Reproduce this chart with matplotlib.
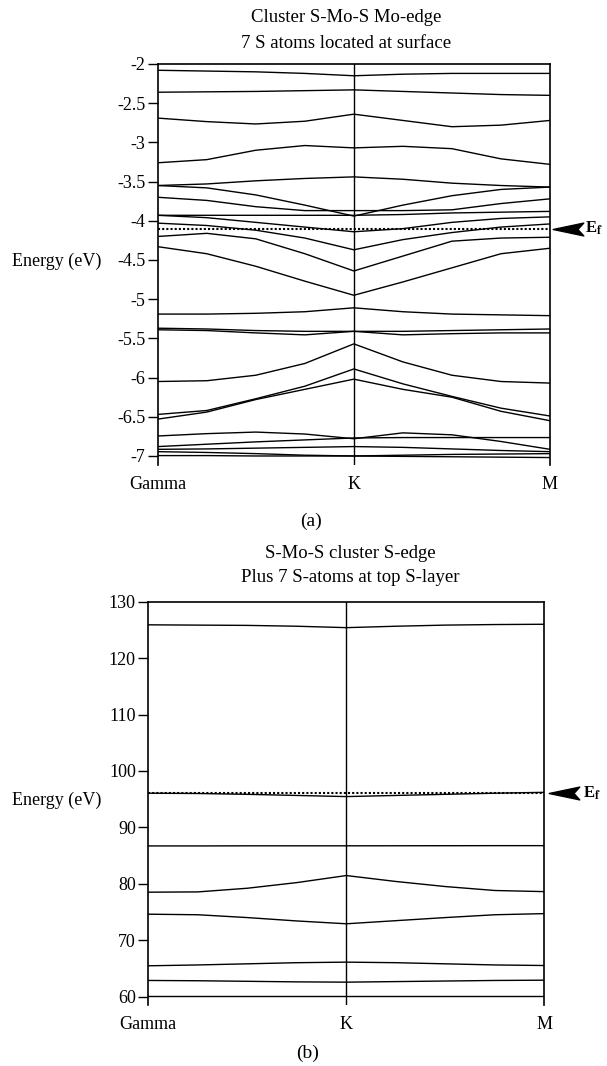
import matplotlib
matplotlib.use("Agg")
import matplotlib.pyplot as plt
from matplotlib.path import Path
from matplotlib import transforms

# ----------------------------
# DATA
# ----------------------------
k_path = [0, 0.25, 0.5, 0.75, 1.0, 1.25, 1.5, 1.75, 2.0]
k_ticks = [0, 1, 2]
k_labels = ["Gamma", "K", "M"]

# (a) Mo-edge, 7 S atoms at surface, energies in eV
bands_mo_edge = [
    [-2.08, -2.09, -2.10, -2.12, -2.15, -2.13, -2.12, -2.12, -2.12],
    [-2.36, -2.355, -2.35, -2.34, -2.33, -2.35, -2.37, -2.39, -2.40],
    [-2.69, -2.735, -2.765, -2.73, -2.64, -2.72, -2.80, -2.78, -2.72],
    [-3.26, -3.22, -3.10, -3.04, -3.07, -3.05, -3.08, -3.21, -3.28],
    [-3.55, -3.53, -3.49, -3.46, -3.44, -3.47, -3.52, -3.55, -3.57],
    [-3.55, -3.58, -3.67, -3.80, -3.94, -3.80, -3.68, -3.60, -3.57],
    [-3.70, -3.74, -3.82, -3.87, -3.87, -3.87, -3.86, -3.78, -3.72],
    [-3.93, -3.93, -3.93, -3.93, -3.93, -3.92, -3.90, -3.89, -3.88],
    [-3.93, -3.96, -4.02, -4.08, -4.14, -4.10, -4.02, -3.97, -3.95],
    [-4.03, -4.06, -4.12, -4.22, -4.37, -4.24, -4.15, -4.08, -4.04],
    [-4.20, -4.16, -4.23, -4.42, -4.64, -4.45, -4.26, -4.22, -4.21],
    [-4.33, -4.42, -4.58, -4.77, -4.95, -4.78, -4.60, -4.42, -4.35],
    [-5.19, -5.19, -5.18, -5.16, -5.11, -5.16, -5.19, -5.20, -5.21],
    [-5.37, -5.38, -5.40, -5.41, -5.41, -5.41, -5.40, -5.39, -5.38],
    [-5.39, -5.40, -5.43, -5.455, -5.41, -5.455, -5.44, -5.43, -5.43],
    [-6.05, -6.04, -5.97, -5.82, -5.57, -5.80, -5.97, -6.05, -6.07],
    [-6.47, -6.42, -6.27, -6.11, -5.89, -6.08, -6.24, -6.39, -6.49],
    [-6.53, -6.44, -6.28, -6.15, -6.02, -6.15, -6.25, -6.43, -6.55],
    [-6.745, -6.715, -6.695, -6.72, -6.78, -6.705, -6.73, -6.815, -6.915],
    [-6.88, -6.85, -6.82, -6.795, -6.77, -6.765, -6.765, -6.765, -6.765],
    [-6.915, -6.91, -6.90, -6.89, -6.88, -6.89, -6.91, -6.93, -6.945],
    [-6.945, -6.955, -6.97, -6.99, -7.00, -6.99, -6.98, -6.975, -6.97],
    [-6.995, -6.995, -7.00, -7.00, -7.00, -7.005, -7.01, -7.015, -7.02],
]
ef_mo_edge = -4.10
yticks_mo_edge = [-2, -2.5, -3, -3.5, -4, -4.5, -5, -5.5, -6, -6.5, -7]

# (b) S-edge, 7 S atoms at top S-layer, energies in eV
bands_s_edge = [
    [125.9, 125.85, 125.8, 125.65, 125.4, 125.65, 125.85, 125.95, 126.0],
    [96.05, 96.0, 95.85, 95.65, 95.45, 95.65, 95.85, 96.05, 96.2],
    [86.7, 86.7, 86.72, 86.72, 86.72, 86.73, 86.74, 86.75, 86.75],
    [78.5, 78.55, 79.2, 80.2, 81.45, 80.4, 79.5, 78.8, 78.6],
    [74.6, 74.5, 74.0, 73.4, 72.9, 73.45, 74.0, 74.5, 74.7],
    [65.45, 65.6, 65.8, 66.0, 66.1, 66.0, 65.8, 65.6, 65.5],
    [62.85, 62.8, 62.7, 62.6, 62.55, 62.65, 62.75, 62.85, 62.9],
    [60.15, 60.15, 60.15, 60.15, 60.15, 60.15, 60.15, 60.15, 60.15],
]
ef_s_edge = 96.1
yticks_s_edge = [60, 70, 80, 90, 100, 110, 120, 130]

# ----------------------------
# STYLE
# ----------------------------
plt.rcParams["font.family"] = ["Liberation Serif", "DejaVu Serif"]
plt.rcParams["mathtext.fontset"] = "stix"

W, H = 607, 1066
fig = plt.figure(figsize=(W / 100, H / 100), dpi=100)

# concave wedge pointing left, used as the Ef marker
wedge = Path(
    [(-1, 0), (1, 0.42), (0.62, 0), (1, -0.42), (-1, 0)],
    [Path.MOVETO, Path.LINETO, Path.LINETO, Path.LINETO, Path.CLOSEPOLY],
)


def draw_panel(ax, bands, ef, ylim, yticks, arrow_x, text_x):
    for b in bands:
        ax.plot(k_path, b, color="black", lw=1.0)
    ax.plot([k_ticks[0], k_ticks[-1]], [ef, ef], color="black",
            lw=1.5, ls=(0, (1, 1)))
    ax.axvline(k_ticks[1], color="black", lw=1.0)

    ax.set_xlim(k_ticks[0], k_ticks[-1])
    ax.set_ylim(*ylim)
    ax.spines["bottom"].set_visible(False)
    for s in ["left", "right", "top"]:
        ax.spines[s].set_linewidth(1.2)

    ax.set_xticks(k_ticks)
    ax.set_xticklabels(k_labels, fontsize=13)
    ax.tick_params(axis="x", length=0, pad=8)
    ax.set_yticks(yticks)
    ax.set_yticklabels([f"{v:g}" for v in yticks])
    ax.tick_params(axis="y", direction="out", length=7, width=1.0,
                   labelsize=13, pad=2)

    trans = transforms.blended_transform_factory(ax.transAxes, ax.transData)
    ax.plot([arrow_x], [ef], marker=wedge, ms=22, color="black",
            transform=trans, clip_on=False)
    ax.text(text_x, ef, r"E$_\mathbf{f}$", transform=trans,
            fontsize=12, fontweight="bold", ha="left", va="center",
            clip_on=False)


# ----------------------------
# PANEL (a)
# ----------------------------
ax1 = fig.add_axes([157.7 / W, 1 - 465 / H, 392.3 / W, 401 / H])
draw_panel(ax1, bands_mo_edge, ef_mo_edge, (-7.115, -2), yticks_mo_edge,
           1.045, 1.088)

fig.text(346 / W, 1 - 18 / H, "Cluster S-Mo-S Mo-edge",
         ha="center", va="center", fontsize=13.5)
fig.text(346 / W, 1 - 43 / H, "7 S atoms located at surface",
         ha="center", va="center", fontsize=13.5)
fig.text(12 / W, 1 - 261 / H, "Energy (eV)", ha="left", va="center",
         fontsize=13)
fig.text(311 / W, 1 - 521 / H, "(a)", ha="center", va="center",
         fontsize=14)

# ----------------------------
# PANEL (b)
# ----------------------------
ax2 = fig.add_axes([148.3 / W, 1 - 1005 / H, 396 / W, 403.3 / H])
draw_panel(ax2, bands_s_edge, ef_s_edge, (58.5, 130), yticks_s_edge,
           1.05, 1.097)

fig.text(350 / W, 1 - 553 / H, "S-Mo-S cluster S-edge",
         ha="center", va="center", fontsize=13.5)
fig.text(350 / W, 1 - 578 / H, "Plus 7 S-atoms at top S-layer",
         ha="center", va="center", fontsize=13.5)
fig.text(12 / W, 1 - 800 / H, "Energy (eV)", ha="left", va="center",
         fontsize=13)
fig.text(308 / W, 1 - 1053 / H, "(b)", ha="center", va="center",
         fontsize=14)

fig.savefig("out.png", dpi=100)
